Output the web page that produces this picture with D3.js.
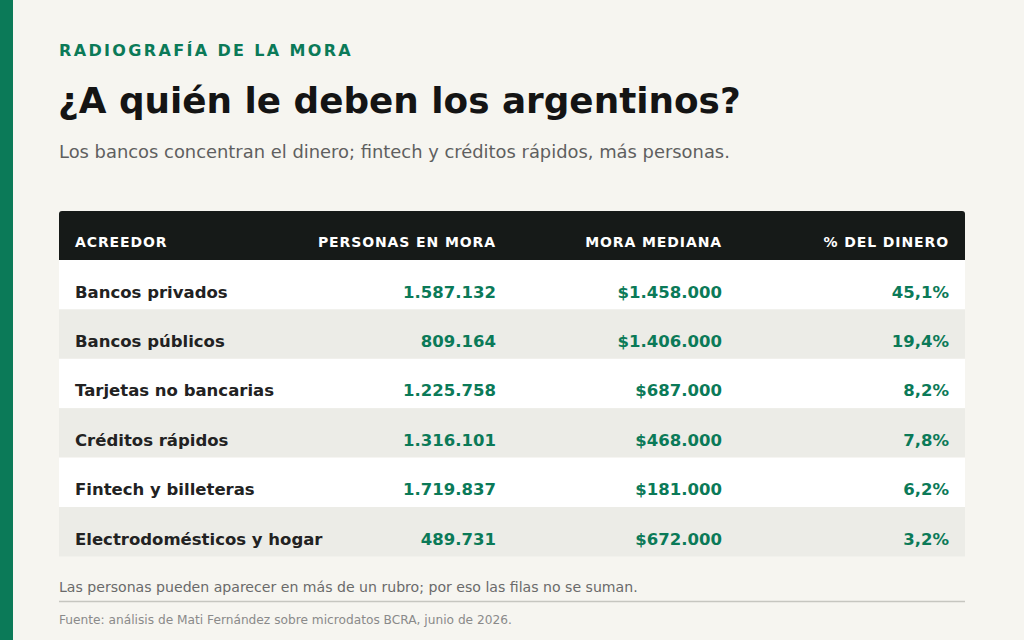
<!DOCTYPE html>
<html>
<head>
<meta charset="utf-8">
<script src="https://cdn.jsdelivr.net/npm/d3@7"></script>
<style>
  html, body { margin: 0; padding: 0; background: #f6f5f0; }
  svg { display: block; font-family: "DejaVu Sans", sans-serif; }
</style>
</head>
<body>
<div id="chart"></div>
<script>
const width = 1024, height = 640;

// Data
const columns = ["ACREEDOR", "PERSONAS EN MORA", "MORA MEDIANA", "% DEL DINERO"];
const acreedores = ["Bancos privados", "Bancos públicos", "Tarjetas no bancarias",
  "Créditos rápidos", "Fintech y billeteras", "Electrodomésticos y hogar"];
const personas = [1587132, 809164, 1225758, 1316101, 1719837, 489731];
const moraMediana = [1458000, 1406000, 687000, 468000, 181000, 672000];
const pctDinero = [45.1, 19.4, 8.2, 7.8, 6.2, 3.2];

const green = "#0b7a58";
const locale = d3.formatLocale({ decimal: ",", thousands: ".", grouping: [3], currency: ["$", ""] });
const fmtInt = locale.format(",d");
const fmtMoney = locale.format("$,d");
const fmtPct = v => locale.format(".1f")(v) + "%";

const svg = d3.select("#chart").append("svg")
  .attr("width", width).attr("height", height);

svg.append("rect").attr("width", width).attr("height", height).attr("fill", "#f6f5f0");
svg.append("rect").attr("width", 13).attr("height", height).attr("fill", green);

// Titles
svg.append("text").attr("x", 59).attr("y", 56)
  .attr("font-size", 16).attr("font-weight", 700).attr("letter-spacing", 2.35)
  .attr("fill", green).text("RADIOGRAFÍA DE LA MORA");

svg.append("text").attr("x", 58).attr("y", 113)
  .attr("font-size", 35.8).attr("font-weight", 700).attr("fill", "#141414")
  .text("¿A quién le deben los argentinos?");

svg.append("text").attr("x", 59).attr("y", 158)
  .attr("font-size", 17.9).attr("fill", "#5f5f5f")
  .text("Los bancos concentran el dinero; fintech y créditos rápidos, más personas.");

// Table layout
const tableLeft = 59, tableRight = 965;
const headerTop = 211, headerH = 49;
const rowH = 49.4;

const y = d3.scaleBand()
  .domain(acreedores)
  .range([headerTop + headerH, headerTop + headerH + rowH * acreedores.length]);

// Column anchors (right edges for numeric columns)
const colX = [75, 496, 722, 949];
const colAnchor = ["start", "end", "end", "end"];

// Header
svg.append("path")
  .attr("d", `M${tableLeft},${headerTop + headerH} V${headerTop + 3} Q${tableLeft},${headerTop} ${tableLeft + 3},${headerTop}
    H${tableRight - 3} Q${tableRight},${headerTop} ${tableRight},${headerTop + 3} V${headerTop + headerH} Z`)
  .attr("fill", "#161a18");

svg.selectAll("text.head").data(columns).join("text")
  .attr("class", "head")
  .attr("x", (d, i) => colX[i])
  .attr("y", headerTop + 36)
  .attr("text-anchor", (d, i) => colAnchor[i])
  .attr("font-size", 14).attr("font-weight", 700).attr("letter-spacing", 0.9)
  .attr("fill", "#ffffff")
  .text(d => d);

// Rows
const rows = svg.selectAll("g.row").data(acreedores).join("g")
  .attr("class", "row")
  .attr("transform", d => `translate(0,${y(d)})`);

rows.append("rect")
  .attr("x", tableLeft).attr("width", tableRight - tableLeft)
  .attr("height", y.bandwidth())
  .attr("fill", (d, i) => i % 2 === 0 ? "#ffffff" : "#ecece7");

rows.append("text")
  .attr("x", colX[0]).attr("y", y.bandwidth() / 2 + 13)
  .attr("font-size", 16.5).attr("font-weight", 700).attr("fill", "#222")
  .text(d => d);

const cellValues = [
  (d, i) => fmtInt(personas[i]),
  (d, i) => fmtMoney(moraMediana[i]),
  (d, i) => fmtPct(pctDinero[i])
];
cellValues.forEach((fn, c) => {
  rows.append("text")
    .attr("x", colX[c + 1]).attr("y", y.bandwidth() / 2 + 13)
    .attr("text-anchor", "end")
    .attr("font-size", 16.5).attr("font-weight", 700).attr("fill", green)
    .text(fn);
});

// Footer
svg.append("text").attr("x", 59).attr("y", 592)
  .attr("font-size", 14.1).attr("fill", "#6a6a6a")
  .text("Las personas pueden aparecer en más de un rubro; por eso las filas no se suman.");

svg.append("line")
  .attr("x1", tableLeft).attr("x2", tableRight)
  .attr("y1", 601.5).attr("y2", 601.5)
  .attr("stroke", "#c6c6c0").attr("stroke-width", 1.5);

svg.append("text").attr("x", 59).attr("y", 624)
  .attr("font-size", 12.2).attr("fill", "#8a8a8a")
  .text("Fuente: análisis de Mati Fernández sobre microdatos BCRA, junio de 2026.");
</script>
</body>
</html>
